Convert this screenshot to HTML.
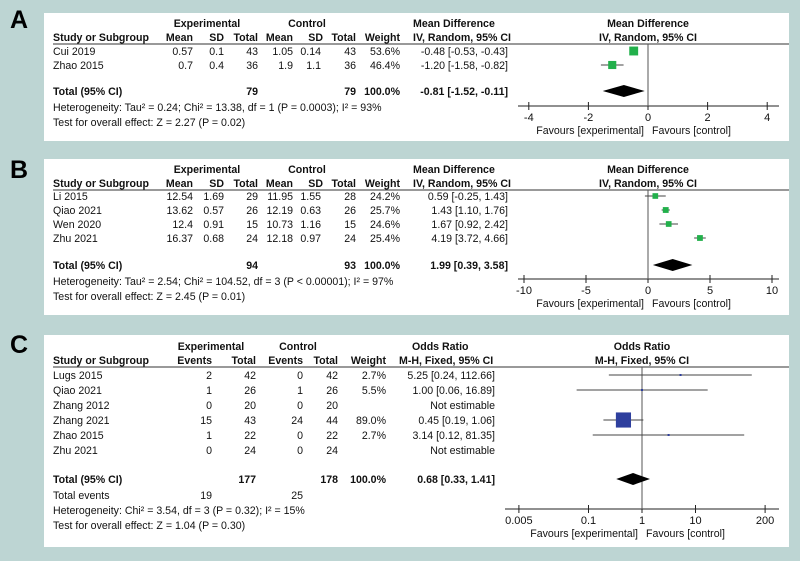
<!DOCTYPE html>
<html><head><meta charset="utf-8"><style>
html,body{margin:0;padding:0;background:#bdd5d3;}
svg{display:block;font-family:"Liberation Sans",Arial,sans-serif;}
</style></head><body>
<svg id="fig" width="800" height="561" viewBox="0 0 800 561" xmlns="http://www.w3.org/2000/svg">
<rect x="0" y="0" width="800" height="561" fill="#bdd5d3"/>
<g>
<rect x="44" y="13" width="745" height="128" fill="#fff"/>
<text x="10" y="28" font-size="25" font-weight="bold">A</text>
</g>
<g>
<rect x="44" y="159" width="745" height="156" fill="#fff"/>
<text x="10" y="178" font-size="25" font-weight="bold">B</text>
</g>
<g>
<rect x="44" y="335" width="745" height="212" fill="#fff"/>
<text x="10" y="353" font-size="25" font-weight="bold">C</text>
</g>
</svg>
<script>
// ---- Panel A data ----
const aStudies = ["Cui 2019", "Zhao 2015"];
const aEst = [-0.48, -1.20];
const aLo = [-0.53, -1.58];
const aHi = [-0.43, -0.82];
const aWeight = [53.6, 46.4];
const aTotal = [-0.81, -1.52, -0.11];
const aTicks = [-4, -2, 0, 2, 4];
// ---- Panel B data ----
const bStudies = ["Li 2015", "Qiao 2021", "Wen 2020", "Zhu 2021"];
const bEst = [0.59, 1.43, 1.67, 4.19];
const bLo = [-0.25, 1.10, 0.92, 3.72];
const bHi = [1.43, 1.76, 2.42, 4.66];
const bWeight = [24.2, 25.7, 24.6, 25.4];
const bTotal = [1.99, 0.39, 3.58];
const bTicks = [-10, -5, 0, 5, 10];
// ---- Panel C data ----
const cStudies = ["Lugs 2015", "Qiao 2021", "Zhang 2012", "Zhang 2021", "Zhao 2015", "Zhu 2021"];
const cEst = [5.25, 1.00, null, 0.45, 3.14, null];
const cLo = [0.24, 0.06, null, 0.19, 0.12, null];
const cHi = [112.66, 16.89, null, 1.06, 81.35, null];
const cWeight = [2.7, 5.5, null, 89.0, 2.7, null];
const cTotal = [0.68, 0.33, 1.41];
const cTicks = [0.005, 0.1, 1, 10, 200];

const FS = 10.6;
const NS = "http://www.w3.org/2000/svg";
const svg = document.getElementById("fig");
function mk(tag, attrs, parent) {
  const e = document.createElementNS(NS, tag);
  for (const k in attrs) e.setAttribute(k, attrs[k]);
  (parent || svg).appendChild(e);
  return e;
}
function txt(x, y, s, name, opts) {
  opts = opts || {};
  const t = mk("text", {x: x, y: y, "font-size": opts.size || FS, fill: "#111",
    "text-anchor": opts.anchor || "start", "font-weight": opts.bold ? "bold" : "normal"});
  t.textContent = s;
  
  
  return t;
}
function line(x1, y1, x2, y2, name, color, w) {
  const l = mk("line", {x1: x1, y1: y1, x2: x2, y2: y2, stroke: color || "#333", "stroke-width": w || 1});
  
  
  return l;
}
function fmt(v){return v.toFixed(2);}

function forest(cfg) {
  const xs = cfg.xs;
  line(cfg.axL, cfg.axY, cfg.axR, cfg.axY, cfg.p + "-x-axis", "#222");
  cfg.ticks.forEach(function(t){
    const x = xs(t);
    line(x, cfg.axY - 4, x, cfg.axY + 4, cfg.p + "-x-tick", "#222");
    txt(x, cfg.axY + 15, String(t), cfg.p + "-x-tick-label", {anchor: "middle", size: 11});
  });
  txt(xs(cfg.nullV) - 4, cfg.axY + 28, "Favours [experimental]", cfg.p + "-favours-experimental", {anchor: "end"});
  txt(xs(cfg.nullV) + 4, cfg.axY + 28, "Favours [control]", cfg.p + "-favours-control");
  line(xs(cfg.nullV), cfg.topY, xs(cfg.nullV), cfg.axY, cfg.p + "-null-line", "#555");
  cfg.est.forEach(function(v, i){
    if (v === null) return;
    const y = cfg.rows[i];
    line(xs(cfg.lo[i]), y, xs(cfg.hi[i]), y, cfg.p + "-ci-line", "#444");
    const s = cfg.size(cfg.w[i]);
    const r = mk("rect", {x: xs(v) - s/2, y: y - s/2, width: s, height: s, fill: cfg.color});
    
    
  });
  const d = cfg.total, dy = cfg.totY;
  const dm = mk("polygon", {points: [xs(d[1])+","+dy, xs(d[0])+","+(dy-6), xs(d[2])+","+dy, xs(d[0])+","+(dy+6)].join(" "), fill: "#000"});
  
  
}

function contPanel(p, y0, studies, expRows, ctrlRows, est, lo, hi, w, total, tot, het, test, ticks, xs, axY, rows, totY) {
  txt(207, y0, "Experimental", p + "-header-experimental", {anchor: "middle", bold: true});
  txt(307, y0, "Control", p + "-header-control", {anchor: "middle", bold: true});
  txt(413, y0, "Mean Difference", p + "-header-md", {bold: true});
  txt(648, y0, "Mean Difference", p + "-header-plot", {anchor: "middle", bold: true});
  const y1 = y0 + 14;
  txt(53, y1, "Study or Subgroup", p + "-header-study", {bold: true});
  [["Mean",193],["SD",224],["Total",258],["Mean",293],["SD",323],["Total",356],["Weight",400]].forEach(function(h){
    txt(h[1], y1, h[0], p + "-header-col", {anchor: "end", bold: true});
  });
  txt(413, y1, "IV, Random, 95% CI", p + "-header-ci", {bold: true});
  txt(648, y1, "IV, Random, 95% CI", p + "-header-plot-ci", {anchor: "middle", bold: true});
  line(53, y1 + 3, 789, y1 + 3, p + "-header-rule", "#333");
  studies.forEach(function(s, i){
    const y = rows[i] + 4;
    txt(53, y, s, p + "-study-name");
    const v = expRows[i].concat(ctrlRows[i]);
    [193,224,258,293,321,356].forEach(function(x, j){ txt(x, y, v[j], p + "-study-value", {anchor: "end"}); });
    txt(400, y, w[i].toFixed(1) + "%", p + "-study-weight", {anchor: "end"});
    txt(508, y, fmt(est[i]) + " [" + fmt(lo[i]) + ", " + fmt(hi[i]) + "]", p + "-study-ci", {anchor: "end"});
  });
  const ty = totY + 4;
  txt(53, ty, "Total (95% CI)", p + "-total-label", {bold: true});
  txt(258, ty, tot[0], p + "-total-exp", {anchor: "end", bold: true});
  txt(356, ty, tot[1], p + "-total-ctrl", {anchor: "end", bold: true});
  txt(400, ty, "100.0%", p + "-total-weight", {anchor: "end", bold: true});
  txt(508, ty, fmt(total[0]) + " [" + fmt(total[1]) + ", " + fmt(total[2]) + "]", p + "-total-ci", {anchor: "end", bold: true});
  txt(53, ty + 16, het, p + "-heterogeneity");
  txt(53, ty + 31, test, p + "-overall-effect");
  forest({p: p, xs: xs, ticks: ticks, axL: 518, axR: 779, axY: axY, nullV: 0, topY: y1 + 3,
    est: est, lo: lo, hi: hi, w: w, rows: rows, size: function(wt){return 3 + wt * 0.11;},
    color: "#22b04b", total: total, totY: totY});
}
contPanel("panel-a", 27, aStudies, [["0.57","0.1","43"],["0.7","0.4","36"]], [["1.05","0.14","43"],["1.9","1.1","36"]],
  aEst, aLo, aHi, aWeight, aTotal, ["79","79"],
  "Heterogeneity: Tau\u00b2 = 0.24; Chi\u00b2 = 13.38, df = 1 (P = 0.0003); I\u00b2 = 93%",
  "Test for overall effect: Z = 2.27 (P = 0.02)", aTicks,
  function(v){return 648 + v * 29.8;}, 106, [51, 65], 91);
contPanel("panel-b", 173, bStudies,
  [["12.54","1.69","29"],["13.62","0.57","26"],["12.4","0.91","15"],["16.37","0.68","24"]],
  [["11.95","1.55","28"],["12.19","0.63","26"],["10.73","1.16","15"],["12.18","0.97","24"]],
  bEst, bLo, bHi, bWeight, bTotal, ["94","93"],
  "Heterogeneity: Tau\u00b2 = 2.54; Chi\u00b2 = 104.52, df = 3 (P < 0.00001); I\u00b2 = 97%",
  "Test for overall effect: Z = 2.45 (P = 0.01)", bTicks,
  function(v){return 648 + v * 12.4;}, 279, [196, 210, 224, 238], 265);

(function(){
  const p = "panel-c";
  const y0 = 350, y1 = 364;
  txt(211, y0, "Experimental", p + "-header-experimental", {anchor: "middle", bold: true});
  txt(298, y0, "Control", p + "-header-control", {anchor: "middle", bold: true});
  txt(412, y0, "Odds Ratio", p + "-header-or", {bold: true});
  txt(642, y0, "Odds Ratio", p + "-header-plot", {anchor: "middle", bold: true});
  txt(53, y1, "Study or Subgroup", p + "-header-study", {bold: true});
  [["Events",212],["Total",256],["Events",303],["Total",338],["Weight",386]].forEach(function(h){
    txt(h[1], y1, h[0], p + "-header-col", {anchor: "end", bold: true});
  });
  txt(399, y1, "M-H, Fixed, 95% CI", p + "-header-ci", {bold: true});
  txt(642, y1, "M-H, Fixed, 95% CI", p + "-header-plot-ci", {anchor: "middle", bold: true});
  line(53, y1 + 3, 789, y1 + 3, p + "-header-rule", "#333");
  const counts = [["2","42","0","42"],["1","26","1","26"],["0","20","0","20"],["15","43","24","44"],["1","22","0","22"],["0","24","0","24"]];
  const rows = [375, 390, 405, 420, 435, 450];
  cStudies.forEach(function(s, i){
    const y = rows[i] + 4;
    txt(53, y, s, p + "-study-name");
    [212,256,303,338].forEach(function(x, j){ txt(x, y, counts[i][j], p + "-study-value", {anchor: "end"}); });
    if (cEst[i] !== null) {
      txt(386, y, cWeight[i].toFixed(1) + "%", p + "-study-weight", {anchor: "end"});
      txt(495, y, fmt(cEst[i]) + " [" + fmt(cLo[i]) + ", " + fmt(cHi[i]) + "]", p + "-study-ci", {anchor: "end"});
    } else {
      txt(495, y, "Not estimable", p + "-study-ci", {anchor: "end"});
    }
  });
  const ty = 483;
  txt(53, ty, "Total (95% CI)", p + "-total-label", {bold: true});
  txt(256, ty, "177", p + "-total-exp", {anchor: "end", bold: true});
  txt(338, ty, "178", p + "-total-ctrl", {anchor: "end", bold: true});
  txt(386, ty, "100.0%", p + "-total-weight", {anchor: "end", bold: true});
  txt(495, ty, fmt(cTotal[0]) + " [" + fmt(cTotal[1]) + ", " + fmt(cTotal[2]) + "]", p + "-total-ci", {anchor: "end", bold: true});
  txt(53, ty + 16, "Total events", p + "-total-events-label");
  txt(212, ty + 16, "19", p + "-total-events-exp", {anchor: "end"});
  txt(303, ty + 16, "25", p + "-total-events-ctrl", {anchor: "end"});
  txt(53, ty + 31, "Heterogeneity: Chi\u00b2 = 3.54, df = 3 (P = 0.32); I\u00b2 = 15%", p + "-heterogeneity");
  txt(53, ty + 46, "Test for overall effect: Z = 1.04 (P = 0.30)", p + "-overall-effect");
  forest({p: p, xs: function(v){return 642 + Math.log10(v) * 53.5;}, ticks: cTicks,
    axL: 505, axR: 779, axY: 509, nullV: 1, topY: y1 + 3,
    est: cEst, lo: cLo, hi: cHi, w: cWeight, rows: rows,
    size: function(wt){return Math.max(2, wt * 0.17);},
    color: "#2e3f9e", total: cTotal, totY: 479});
})();
</script>
</body></html>
